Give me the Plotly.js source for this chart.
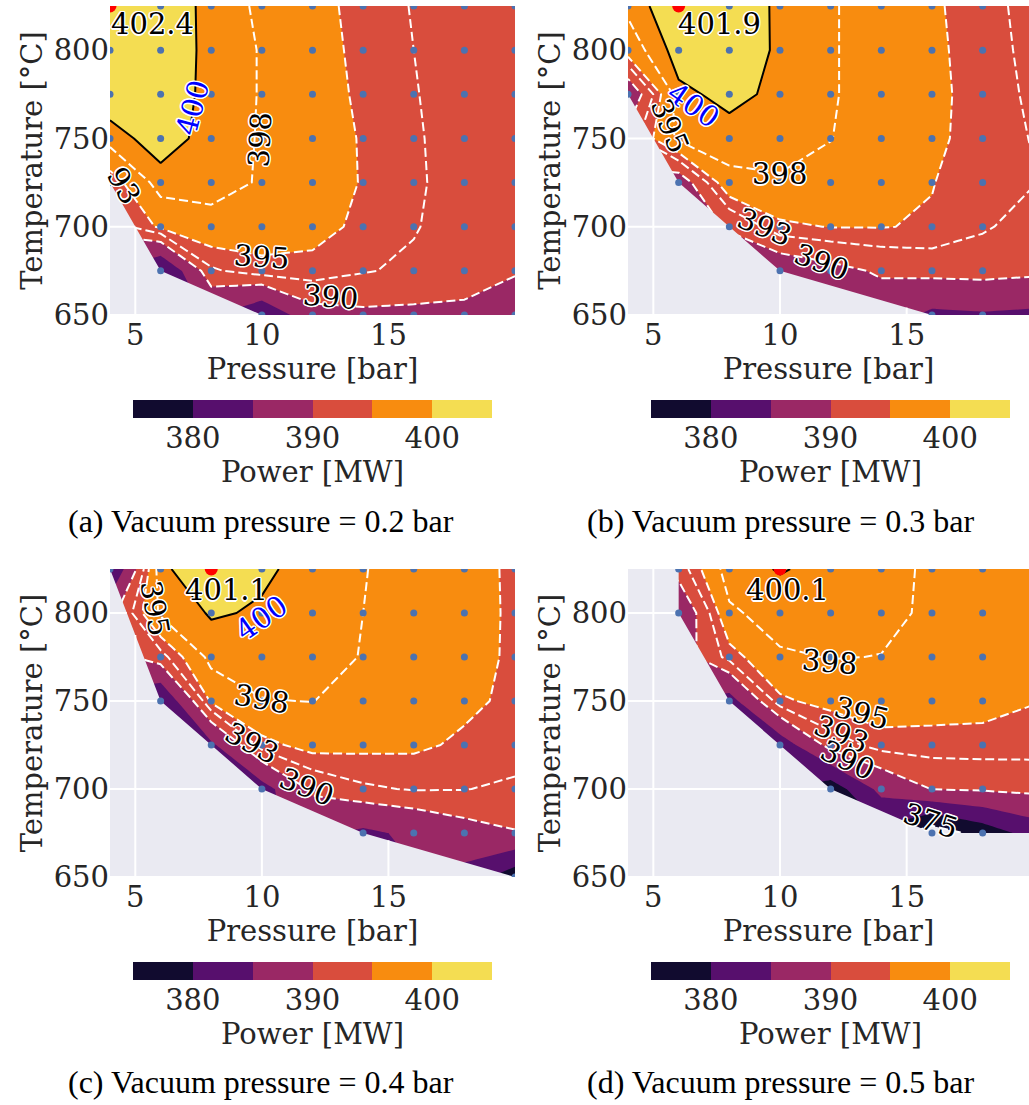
<!DOCTYPE html>
<html><head><meta charset="utf-8">
<script src="https://cdn.plot.ly/plotly-3.0.1.min.js"></script>
<style>html,body{margin:0;padding:0;background:#fff}</style>
</head><body><div id="chart" style="width:1029px;height:1105px"></div>
<script>
// ---------------- data ----------------
const PRESSURE = [4, 6, 8, 10, 12, 14, 16, 18, 20];          // bar (grid columns)
const TEMPERATURE = [650, 675, 700, 725, 750, 775, 800, 825];   // degC (grid rows)
// Net power [MW]; null = no converged simulation at that grid point
const POWER_A = [
  [null, null, null, 380.5, 388.5, 389.3, 389.2, 389.2, 388.5],
  [null, 379.5, 392.6, 394.3, 394.3, 393.2, 392.5, 391.5, 390.2],
  [null, 395.5, 397.0, 396.3, 395.8, 394.5, 393.2, 391.7, 390.6],
  [393.5, 399.2, 399.0, 397.75, 396.3, 394.85, 393.4, 391.9, 390.9],
  [399.1, 401.0, 399.2, 397.8, 396.3, 394.8, 393.3, 391.9, 391.0],
  [401.3, 401.5, 399.3, 397.85, 396.05, 394.6, 393.15, 391.8, 391.0],
  [402.0, 401.7, 399.3, 397.85, 395.9, 394.45, 393.0, 391.7, 391.0],
  [402.4, 401.8, 399.2, 397.6, 395.75, 394.3, 392.85, 391.6, 391.0]
];
const POWER_B = [
  [null, null, null, null, null, null, 384.0, 384.5, 384.0],
  [null, null, null, 387.0, 388.8, 390.5, 391.2, 391.4, 390.9],
  [null, null, 390.2, 394.5, 395.1, 395.1, 394.75, 393.3, 392.0],
  [null, 387.5, 397.25, 397.6, 397.3, 396.5, 395.1, 393.6, 393.1],
  [null, 398.6, 399.2, 399.4, 398.05, 396.9, 395.6, 393.9, 392.9],
  [386.5, 399.5, 400.6, 399.5, 398.2, 397.0, 395.8, 393.8, 392.7],
  [396.5, 401.0, 401.2, 399.7, 398.2, 397.0, 395.7, 393.6, 392.6],
  [398.6, 401.9, 401.5, 399.6, 398.2, 397.0, 395.5, 393.5, 392.5]
];
const POWER_C = [
  [null, null, null, null, null, null, null, null, 377.0],
  [null, null, null, null, null, 384.0, 386.0, 388.4, 389.8],
  [null, null, null, 383.0, 390.7, 392.6, 393.2, 393.1, 392.4],
  [null, null, 384.0, 394.2, 396.0, 395.6, 395.45, 394.6, 394.5],
  [null, 380.0, 395.5, 397.9, 398.05, 397.0, 396.5, 395.5, 394.5],
  [null, 392.0, 398.9, 399.2, 398.8, 397.9, 397.0, 395.9, 394.6],
  [null, 398.5, 400.2, 399.8, 399.2, 398.0, 397.1, 396.0, 394.6],
  [379.5, 399.7, 401.1, 400.3, 399.4, 398.1, 397.1, 395.9, 394.6]
];
const POWER_D = [
  [null, null, null, null, null, null, null, null, null],
  [null, null, null, null, null, null, 372.0, 377.0, 382.0],
  [null, null, null, null, 377.0, 386.5, 390.1, 390.5, 391.0],
  [null, null, null, 382.0, 391.5, 394.0, 394.2, 394.2, 394.0],
  [null, null, 383.0, 394.5, 396.0, 396.5, 396.0, 395.8, 395.1],
  [null, null, 393.9, 397.6, 398.1, 397.95, 397.0, 396.6, 395.9],
  [null, 386.0, 397.5, 399.3, 399.4, 398.6, 397.6, 397.0, 396.3],
  [null, 391.5, 399.4, 400.1, 399.6, 398.8, 397.6, 397.1, 396.5]
];
const VACUUM = [0.2, 0.3, 0.4, 0.5];
const PANEL_LETTERS = ['a', 'b', 'c', 'd'];
const FILL_LEVELS = [375, 380, 385, 390, 395, 400, 405];
const BAND_COLORS = ['#110b2f', '#570f6d', '#9a2865', '#d94d3d', '#f88c0f', '#f4dd52'];
const DASHED_LEVELS = [375, 390, 393, 395, 398];
const SOLID_LEVEL = 400;
const X_TICKS = [5, 10, 15];
const Y_TICKS = [650, 700, 750, 800];
const CBAR_TICKS = [380, 390, 400];

// ---------------- styling / placement ----------------
const W = 1029, H = 1105;
const SERIF = 'DejaVu Serif';
const FS = 29;
const TXT = '#262626';
const BG = '#EAEAF2';
const HALO = '-1px -1px 0 #fff, 1px -1px 0 #fff, -1px 1px 0 #fff, 1px 1px 0 #fff, 0 -1.5px 0 #fff, 0 1.5px 0 #fff, -1.5px 0 0 #fff, 1.5px 0 0 #fff';
const px = v => v / W, py = v => 1 - v / H;
// inline contour-label placement (position, rotation) and which level each one names
const PANELS = [
  {z: POWER_A, xd: [px(110), px(515)], yd: [py(315), py(6)], xr: [4, 20],
   cbx: [px(133), px(492)], cby: [py(418), py(400)], cbt: py(472), cap: [px(261), py(521)], lbl: [42, -18],
   labels: [[7.28, 767, 400, -75], [9.93, 749, 398, -87], [10.0, 683, 395, 4], [12.7, 660, 390, 5], [4.55, 723, '93', 60]]},
  {z: POWER_B, xd: [px(628), 1], yd: [py(315), py(6)], xr: [4, 19.83],
   cbx: [px(651), px(1010)], cby: [py(418), py(400)], cbt: py(472), cap: [px(780), py(521)], lbl: [41, -18],
   labels: [[6.57, 769, 400, 35], [5.65, 757, 395, 68], [9.98, 730, 398, 0], [9.39, 700, 393, 22], [11.63, 680, 390, 20]]},
  {z: POWER_C, xd: [px(110), px(515)], yd: [py(877), py(569)], xr: [4, 20],
   cbx: [px(133), px(492)], cby: [py(980), py(962)], cbt: py(1034), cap: [px(261), py(1082)], lbl: [15, -21],
   labels: [[9.99, 797, 400, -35], [5.78, 803, 395, 80], [9.99, 751, 398, 10], [9.59, 726, 393, 28], [11.77, 701, 390, 22]]},
  {z: POWER_D, xd: [px(628), 1], yd: [py(877), py(569)], xr: [4, 19.83],
   cbx: [px(651), px(1010)], cby: [py(980), py(962)], cbt: py(1034), cap: [px(780), py(1082)], lbl: [8, -21],
   labels: [[11.95, 772, 398, 5], [13.2, 743, 395, 15], [12.41, 731.5, 393, 22], [12.67, 716.5, 390, 25], [15.96, 682, 375, 18]]}
];

// ---------------- geometry helpers ----------------
const cross = (o, a, b) => (a[0] - o[0]) * (b[1] - o[1]) - (a[1] - o[1]) * (b[0] - o[0]);
function sortPts(pts) { return pts.slice().sort((a, b) => a[0] - b[0] || a[1] - b[1]); }
function lowerChain(sorted) {
  const lo = [];
  for (const p of sorted) {
    while (lo.length >= 2 && cross(lo[lo.length - 2], lo[lo.length - 1], p) <= 0) lo.pop();
    lo.push(p);
  }
  return lo;
}
function convexHull(pts) {
  const s = sortPts(pts);
  const lo = lowerChain(s);
  const up = lowerChain(s.slice().reverse());
  lo.pop(); up.pop();
  return lo.concat(up); // CCW
}
// parts of segment p0->p1 lying outside convex CCW polygon
function outsideParts(p0, p1, hull) {
  let tE = 0, tL = 1;
  const d = [p1[0] - p0[0], p1[1] - p0[1]];
  let empty = false;
  for (let i = 0; i < hull.length; i++) {
    const a = hull[i], b = hull[(i + 1) % hull.length];
    const e = [b[0] - a[0], b[1] - a[1]];
    const num = e[0] * (p0[1] - a[1]) - e[1] * (p0[0] - a[0]);
    const den = e[0] * d[1] - e[1] * d[0];
    if (Math.abs(den) < 1e-12) { if (num < 0) { empty = true; break; } continue; }
    const t = -num / den;
    if (den > 0) tE = Math.max(tE, t); else tL = Math.min(tL, t);
  }
  const at = t => [p0[0] + t * d[0], p0[1] + t * d[1]];
  if (empty || tE >= tL) return [[p0, p1]];
  const out = [];
  if (tE > 1e-9) out.push([p0, at(tE)]);
  if (tL < 1 - 1e-9) out.push([at(tL), p1]);
  return out;
}

// ---------------- build traces ----------------
const traces = [];
const annotations = [];
const layout = {
  width: W, height: H, margin: {l: 0, r: 0, t: 0, b: 0},
  paper_bgcolor: '#ffffff', plot_bgcolor: BG, showlegend: false,
  font: {family: SERIF, color: TXT, size: FS}
};

const stepScale = [];
BAND_COLORS.forEach((c, i) => {
  stepScale.push([i / BAND_COLORS.length, c]);
  stepScale.push([(i + 1) / BAND_COLORS.length, c]);
});

PANELS.forEach((P, k) => {
  const n = k + 1;
  const xa = 'x' + (n === 1 ? '' : n), ya = 'y' + (n === 1 ? '' : n);
  const common = {x: PRESSURE, y: TEMPERATURE, z: P.z, xaxis: xa, yaxis: ya,
                  hoverinfo: 'skip', showscale: false, connectgaps: true};

  // filled bands: a constraint "< L" shades the region where power exceeds L
  for (let i = 0; i < BAND_COLORS.length; i++) {
    traces.push(Object.assign({}, common, {
      type: 'contour',
      contours: {type: 'constraint', operation: '<', value: FILL_LEVELS[i]},
      fillcolor: BAND_COLORS[i],
      line: {width: 0, smoothing: 0}
    }));
  }
  // dashed white contour lines
  DASHED_LEVELS.forEach(L => {
    traces.push(Object.assign({}, common, {
      type: 'contour', autocontour: false,
      contours: {start: L, end: L, size: 1, coloring: 'none', showlabels: false},
      line: {color: '#ffffff', width: 2, dash: '9px,4px', smoothing: 0}
    }));
  });
  // solid black line at 400 MW
  traces.push(Object.assign({}, common, {
    type: 'contour', autocontour: false,
    contours: {start: SOLID_LEVEL, end: SOLID_LEVEL, size: 1, coloring: 'none', showlabels: false},
    line: {color: '#000000', width: 2, smoothing: 0}
  }));

  // valid simulation points
  const vx = [], vy = [], pts = [];
  let best = null;
  P.z.forEach((row, j) => row.forEach((v, i) => {
    if (v === null) return;
    vx.push(PRESSURE[i]); vy.push(TEMPERATURE[j]); pts.push([PRESSURE[i], TEMPERATURE[j]]);
    if (!best || v > best.v) best = {v, x: PRESSURE[i], y: TEMPERATURE[j]};
  }));

  // mask outside the convex hull of valid points (no data there)
  const s = sortPts(pts);
  const minX = s[0][0], maxX = s[s.length - 1][0];
  const lo = lowerChain(s);
  const chain = [];
  for (const p of lo) { chain.push(p); if (p[0] === maxX) break; }
  const X0 = PRESSURE[0] - 3, X1 = PRESSURE[PRESSURE.length - 1] + 3;
  const Y0 = TEMPERATURE[0] - 30, Y1 = TEMPERATURE[TEMPERATURE.length - 1] + 30;
  const poly = [[X0, Y1], [minX, Y1]].concat(chain,
    [[X1, chain[chain.length - 1][1]], [X1, Y0], [X0, Y0], [X0, Y1]]);
  traces.push({type: 'scatter', mode: 'lines', x: poly.map(p => p[0]), y: poly.map(p => p[1]),
    xaxis: xa, yaxis: ya, fill: 'toself', fillcolor: BG, line: {width: 0, color: BG},
    hoverinfo: 'skip'});

  // grid lines visible in the empty region
  const hull = convexHull(pts);
  const gx = [], gy = [];
  const yr = [TEMPERATURE[0], TEMPERATURE[TEMPERATURE.length - 1]];
  X_TICKS.forEach(t => outsideParts([t, yr[0] - 5], [t, yr[1] + 5], hull).forEach(sg => {
    gx.push(sg[0][0], sg[1][0], null); gy.push(sg[0][1], sg[1][1], null);
  }));
  Y_TICKS.forEach(t => outsideParts([P.xr[0] - 1, t], [P.xr[1] + 1, t], hull).forEach(sg => {
    gx.push(sg[0][0], sg[1][0], null); gy.push(sg[0][1], sg[1][1], null);
  }));
  traces.push({type: 'scatter', mode: 'lines', x: gx, y: gy, xaxis: xa, yaxis: ya,
    line: {color: '#ffffff', width: 2}, hoverinfo: 'skip'});

  traces.push({type: 'scatter', mode: 'markers', x: vx, y: vy, xaxis: xa, yaxis: ya,
    marker: {color: '#4c72b0', size: 7}, hoverinfo: 'skip'});
  traces.push({type: 'scatter', mode: 'markers', x: [best.x], y: [best.y], xaxis: xa, yaxis: ya,
    marker: {color: '#ff0000', size: 13}, hoverinfo: 'skip'});

  // contour labels
  P.labels.forEach(l => {
    annotations.push({xref: xa, yref: ya, x: l[0], y: l[1], text: String(l[2]), textangle: l[3],
      showarrow: false, xanchor: 'center', yanchor: 'middle',
      font: {family: SERIF, size: FS, color: l[2] === SOLID_LEVEL ? '#0000ff' : '#000000', shadow: HALO}});
  });
  // maximum power label
  annotations.push({xref: xa, yref: ya, x: best.x, y: best.y, text: best.v.toFixed(1),
    showarrow: false, xanchor: 'center', yanchor: 'middle', xshift: P.lbl[0], yshift: P.lbl[1],
    font: {family: SERIF, size: FS, color: '#000000', shadow: HALO}});

  const axBase = {showline: false, zeroline: false, ticks: '', gridcolor: '#ffffff', gridwidth: 2,
    tickfont: {family: SERIF, size: FS, color: TXT}};
  layout['xaxis' + (n === 1 ? '' : n)] = Object.assign({}, axBase, {
    domain: P.xd, anchor: ya, range: P.xr, tickvals: X_TICKS,
    title: {text: 'Pressure [bar]', font: {family: SERIF, size: FS, color: TXT}, standoff: 4}});
  layout['yaxis' + (n === 1 ? '' : n)] = Object.assign({}, axBase, {
    domain: P.yd, anchor: xa, range: [TEMPERATURE[0], TEMPERATURE[TEMPERATURE.length - 1]],
    tickvals: Y_TICKS,
    title: {text: 'Temperature [°C]', font: {family: SERIF, size: FS, color: TXT}, standoff: 2}});

  // colour bar as a one-row heatmap on its own axes
  const cn = n + 4;
  traces.push({type: 'heatmap', x: FILL_LEVELS, y: [0], z: [BAND_COLORS.map((c, i) => i)],
    zmin: 0, zmax: BAND_COLORS.length - 1, colorscale: stepScale, showscale: false,
    xaxis: 'x' + cn, yaxis: 'y' + cn, hoverinfo: 'skip'});
  layout['xaxis' + cn] = {domain: P.cbx, anchor: 'y' + cn, range: [FILL_LEVELS[0], FILL_LEVELS[FILL_LEVELS.length - 1]],
    tickvals: CBAR_TICKS, ticks: '', showgrid: false, zeroline: false, showline: false,
    tickfont: {family: SERIF, size: FS, color: TXT}};
  layout['yaxis' + cn] = {domain: P.cby, anchor: 'x' + cn, range: [-0.5, 0.5], visible: false};
  annotations.push({xref: 'paper', yref: 'paper', x: (P.cbx[0] + P.cbx[1]) / 2, y: P.cbt,
    xanchor: 'center', yanchor: 'middle', showarrow: false, text: 'Power [MW]', borderpad: 0,
    font: {family: SERIF, size: FS, color: TXT}});

  annotations.push({xref: 'paper', yref: 'paper', x: P.cap[0], y: P.cap[1], xanchor: 'center', yanchor: 'middle',
    showarrow: false, text: '(' + PANEL_LETTERS[k] + ') Vacuum pressure = ' + VACUUM[k] + ' bar',
    font: {family: 'Liberation Serif', size: 32, color: '#000000'}});
});
layout.annotations = annotations;

Plotly.newPlot('chart', traces, layout, {displayModeBar: false, staticPlot: true});
</script></body></html>
